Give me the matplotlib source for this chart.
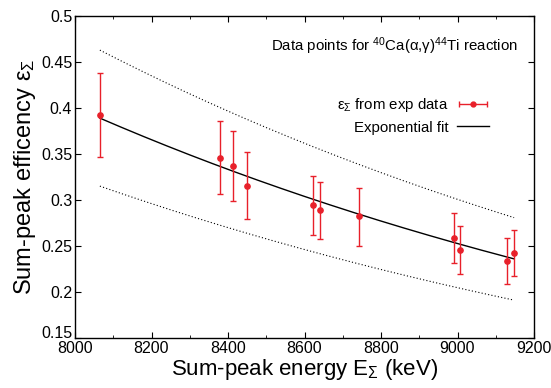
import numpy as np
import matplotlib
matplotlib.use("Agg")
import matplotlib.pyplot as plt
from matplotlib.ticker import MultipleLocator
from matplotlib.legend_handler import HandlerErrorbar

plt.rcParams['font.family'] = ['Liberation Sans', 'DejaVu Sans']
plt.rcParams['mathtext.fontset'] = 'custom'
plt.rcParams['mathtext.rm'] = 'Liberation Sans'
plt.rcParams['mathtext.it'] = 'Liberation Sans'

energy = [8065, 8379, 8413, 8450, 8622, 8641, 8742, 8991, 9007, 9129, 9148]
eff = [0.392, 0.346, 0.337, 0.315, 0.295, 0.289, 0.283, 0.259, 0.246, 0.234, 0.242]
err_hi = [0.438, 0.386, 0.375, 0.352, 0.326, 0.320, 0.313, 0.286, 0.272, 0.259, 0.267]
err_lo = [0.347, 0.307, 0.299, 0.279, 0.262, 0.258, 0.250, 0.231, 0.220, 0.209, 0.217]

fit_range = [8065, 9148]
fit_ends = [0.389, 0.236]
band_upper = 1.19
band_lower = 0.81

red = '#e8202a'

fig = plt.figure(figsize=(5.51, 3.88), dpi=100)
ax = fig.add_axes([75/551, 1-338/388, (534-75)/551, (338-16)/388])

e = np.array(energy); v = np.array(eff)
yerr = [v - np.array(err_lo), np.array(err_hi) - v]

b = np.log(fit_ends[0]/fit_ends[1])/(fit_range[1]-fit_range[0])
xs = np.linspace(fit_range[0], fit_range[1], 200)
ys = fit_ends[0]*np.exp(-b*(xs - fit_range[0]))

ax.plot(xs, ys*band_upper, color='black', ls=(0, (1, 2)), lw=0.8)
ax.plot(xs, ys*band_lower, color='black', ls=(0, (1, 2)), lw=0.8)
ax.errorbar(e, v, yerr=yerr, fmt='o', color=red, ms=3.8, capsize=2.5,
            elinewidth=1.0, capthick=1.0, zorder=3)
fitline, = ax.plot(xs, ys, color='black', lw=1.0, label='Exponential fit')
proxy = ax.errorbar([np.nan], [np.nan], xerr=[1.0], fmt='o', color=red, ms=3.5,
                    capsize=2.5, elinewidth=1.0, capthick=1.0,
                    label=r'$\epsilon_\Sigma$ from exp data')

ax.set_xlim(8000, 9200)
ax.set_ylim(0.15, 0.5)
ax.xaxis.set_major_locator(MultipleLocator(200))
ax.xaxis.set_minor_locator(MultipleLocator(100))
ax.set_yticks([0.15, 0.2, 0.25, 0.3, 0.35, 0.4, 0.45, 0.5])
ax.set_yticklabels(['0.15', '0.2', '0.25', '0.3', '0.35', '0.4', '0.45', '0.5'])
ax.tick_params(which='both', direction='in', top=True, right=True, labelsize=11.5, pad=2)
ax.tick_params(which='major', length=4)
ax.tick_params(which='minor', length=2)
ax.get_yticklabels()[0].set_verticalalignment('baseline')
for s in ax.spines.values():
    s.set_linewidth(1.0)

ax.set_xlabel(r'Sum-peak energy E$_\Sigma$ (keV)', fontsize=16, labelpad=1)
ax.set_ylabel(r'Sum-peak efficency $\epsilon_\Sigma$', fontsize=17, labelpad=2)

ax.text(0.965, 0.905, r'Data points for $^{40}$Ca($\alpha$,$\gamma$)$^{44}$Ti reaction',
        transform=ax.transAxes, ha='right', va='center', fontsize=10.8)

leg = ax.legend([proxy, fitline], [proxy.get_label(), fitline.get_label()],
                loc='upper right', bbox_to_anchor=(0.918, 0.775), frameon=False,
                fontsize=10.8, markerfirst=False, handlelength=2.1, borderpad=0.0,
                labelspacing=0.45, handletextpad=0.6,
                handler_map={type(proxy): HandlerErrorbar(xerr_size=0.95)})

fig.savefig('out.png', dpi=100)
